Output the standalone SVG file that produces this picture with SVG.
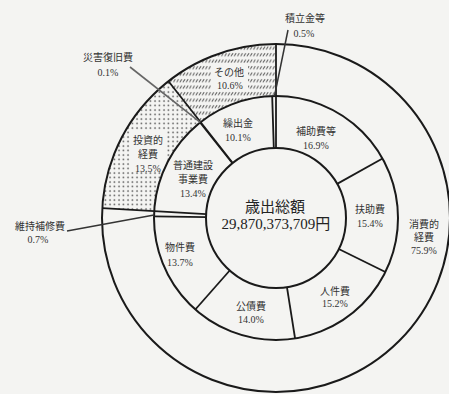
<svg xmlns="http://www.w3.org/2000/svg" width="449" height="394" viewBox="0 0 449 394">
<style>
.ring{fill:none;stroke:#1a1a1a;stroke-width:2}
.div{stroke:#1a1a1a;stroke-width:1.8;fill:none}
.lead{stroke:#333;stroke-width:1.5;fill:none}
.lead2{stroke:#666;stroke-width:1.6;fill:none}
.t{font-family:"Liberation Serif","Noto Sans CJK JP",serif;font-size:10px;fill:#333;text-anchor:middle}
.big{font-family:"Liberation Serif","Noto Sans CJK JP",serif;font-size:15px;fill:#222;text-anchor:middle}
.bg{fill:#f4f4f2}
</style>
<defs>
<pattern id="dots" width="4.5" height="4.5" patternUnits="userSpaceOnUse"><circle cx="2" cy="2" r="0.85" fill="#555"/></pattern>
<pattern id="hatch" width="3.2" height="6.5" patternUnits="userSpaceOnUse"><line x1="0.6" y1="4.2" x2="2.6" y2="1.2" stroke="#444" stroke-width="0.9"/></pattern>
</defs>
<rect x="0" y="0" width="449" height="394" class="bg"/>

<g id="outer-toushi">
<path d="M102.28,208.17 A174,174 0 0 1 168.47,81.2 L200.6,122.08 A122,122 0 0 0 154.2,211.1 Z" fill="url(#dots)"/>
<rect x="131" y="131" width="35" height="41" class="bg"/>
<text class="t" x="148" y="144">投資的</text>
<text class="t" x="148" y="158">経費</text>
<text class="t" x="148" y="172">13.5%</text>
</g>
<g id="outer-sonota">
<path d="M168.47,81.2 A174,174 0 0 1 276,44 L276,96 A122,122 0 0 0 200.6,122.08 Z" fill="url(#hatch)"/>
<rect x="211" y="63" width="37" height="28" class="bg"/>
<text class="t" x="229" y="76">その他</text>
<text class="t" x="230" y="89">10.6%</text>
</g>
<g id="outer-shohi">
<text class="t" x="424" y="228">消費的</text>
<text class="t" x="424" y="241">経費</text>
<text class="t" x="424" y="254">75.9%</text>
</g>

<g id="rings">
<circle cx="276" cy="218" r="174" class="ring"/>
<circle cx="276" cy="218" r="122" class="ring"/>
<circle cx="276" cy="218" r="70" class="ring"/>
</g>

<g id="connectors">
<line class="div" x1="276" y1="148" x2="276" y2="44"/>
<line class="div" x1="273.8" y1="148.03" x2="272.17" y2="96.06"/>
<line class="div" x1="337.13" y1="183.89" x2="382.54" y2="158.55"/>
<line class="div" x1="338.76" y1="249" x2="385.39" y2="272.02"/>
<line class="div" x1="286.95" y1="287.14" x2="295.08" y2="338.5"/>
<line class="div" x1="229.71" y1="270.51" x2="195.32" y2="309.51"/>
<line class="div" x1="206" y1="217.12" x2="154" y2="216.47"/>
<line class="div" x1="206.11" y1="214.04" x2="102.28" y2="208.17"/>
<line class="div" x1="232.42" y1="163.22" x2="200.05" y2="122.52"/>
<line class="div" x1="232.74" y1="162.97" x2="168.47" y2="81.2"/>
<line class="lead2" x1="130" y1="67" x2="200.3" y2="122.3"/>
<line class="lead" x1="288" y1="30" x2="274.5" y2="96"/>
<line class="lead" x1="67" y1="231" x2="154.1" y2="215"/>
</g>

<g id="center">
<text class="big" x="275" y="212">歳出総額</text>
<text class="big" x="276" y="229">29,870,373,709円</text>
</g>
<g id="hojohi"><text class="t" x="316" y="135">補助費等</text><text class="t" x="316" y="149">16.9%</text></g>
<g id="fujohi"><text class="t" x="370" y="213">扶助費</text><text class="t" x="370" y="227">15.4%</text></g>
<g id="jinkenhi"><text class="t" x="335" y="295">人件費</text><text class="t" x="335" y="307">15.2%</text></g>
<g id="kosaihi"><text class="t" x="251" y="310">公債費</text><text class="t" x="251" y="323">14.0%</text></g>
<g id="bukkenhi"><text class="t" x="180" y="251">物件費</text><text class="t" x="180" y="266">13.7%</text></g>
<g id="futsu"><text class="t" x="193" y="169">普通建設</text><text class="t" x="193" y="183">事業費</text><text class="t" x="193" y="197">13.4%</text></g>
<g id="kuridashi"><text class="t" x="238" y="127">繰出金</text><text class="t" x="238" y="141">10.1%</text></g>
<g id="iji"><text class="t" x="40" y="230">維持補修費</text><text class="t" x="38" y="243">0.7%</text></g>
<g id="saigai"><text class="t" x="108" y="61">災害復旧費</text><text class="t" x="108" y="76">0.1%</text></g>
<g id="tsumitate"><text class="t" x="305" y="22">積立金等</text><text class="t" x="304" y="37">0.5%</text></g>
</svg>
